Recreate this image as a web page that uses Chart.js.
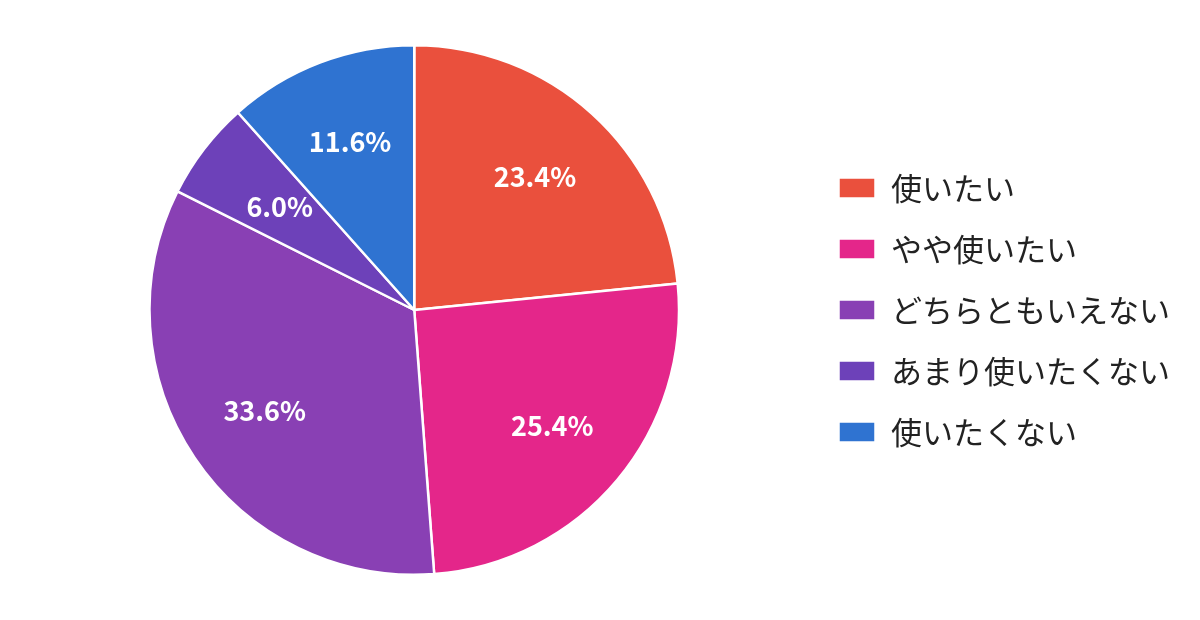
<!DOCTYPE html>
<html><head><meta charset="utf-8">
<script src="https://cdn.jsdelivr.net/npm/chart.js@4"></script>
<style>html,body{margin:0;background:#fff}#w{width:1200px;height:620px}</style>
</head><body><div id="w"><canvas id="c"></canvas></div>
<script>
const categories=["使いたい","やや使いたい","どちらともいえない","あまり使いたくない","使いたくない"];
const values=[23.4,25.4,33.6,6.0,11.6];
const colors=["#EA503D","#E4268A","#8940B4","#6D41B9","#2F73D1"];
const labelPlugin={id:'lbl',afterDatasetsDraw(chart){
  const ctx=chart.ctx;const meta=chart.getDatasetMeta(0);
  ctx.save();ctx.fillStyle='#fff';ctx.font='bold 27px "Noto Sans CJK JP"';ctx.textAlign='center';ctx.textBaseline='middle';
  meta.data.forEach((a,i)=>{const p=a.getProps(['x','y','startAngle','endAngle','outerRadius'],true);
    const m=(p.startAngle+p.endAngle)/2;const r=p.outerRadius*(values[i]<8?0.64:0.68);
    ctx.fillText(values[i].toFixed(1)+'%',p.x+Math.cos(m)*r,p.y+Math.sin(m)*r);});
  ctx.restore();}};
new Chart(document.getElementById('c'),{type:'pie',
data:{labels:categories,datasets:[{data:values,backgroundColor:colors,borderColor:'#fff',borderWidth:2.5}]},
options:{responsive:true,maintainAspectRatio:false,animation:false,
layout:{padding:{top:44,bottom:44,left:20,right:20}},
plugins:{tooltip:{enabled:false},legend:{position:'right',align:'center',
labels:{boxWidth:37,boxHeight:21,padding:30,color:'#222',font:{size:31,family:'"Noto Sans CJK JP"'}}}}},
plugins:[labelPlugin]});
</script></body></html>
